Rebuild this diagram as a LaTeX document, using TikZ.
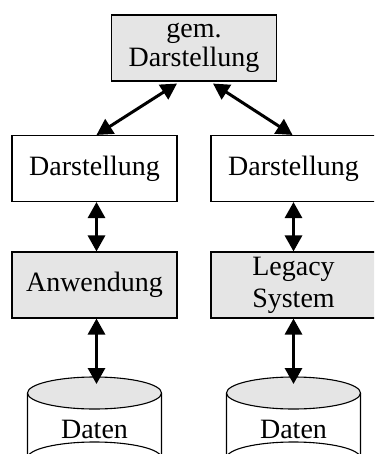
\documentclass[tikz,border=0pt]{standalone}
\usepackage{fontspec}
\setmainfont{Liberation Serif}
\usetikzlibrary{arrows.meta}
\definecolor{boxgray}{gray}{0.90}
\begin{document}
\begin{tikzpicture}[x=1pt,y=-1pt,
  every node/.style={font=\fontsize{28}{29}\selectfont},
  layer/.style={draw=black,line width=1.1pt,minimum width=165pt,minimum height=66pt,inner sep=0pt,align=center},
  shaded/.style={layer,fill=boxgray},
  link/.style={line width=3pt,{Triangle[length=16pt,width=17pt]}-{Triangle[length=16pt,width=17pt]}},
  drum/.style={draw=black,line width=1.1pt}
]
\useasboundingbox (0,0) rectangle (374,454);
\clip (0,0) rectangle (374,454);

% layer boxes
\node[shaded] (top) at (194,48) {gem.\\Darstellung};
\node[layer]  (dl)  at (94.5,168.5) {Darstellung};
\node[layer]  (dr)  at (293.5,168.5) {Darstellung};
\node[shaded] (an)  at (94.5,285) {Anwendung};
\node[shaded] (leg) at (293.5,285) {Legacy\\[3pt]System};

% data stores (cylinders)
\foreach \cx/\nm in {94.5/L,293.5/R}{
  \draw[drum] (\cx-67,393) -- (\cx-67,458) arc[start angle=180,end angle=360,x radius=67,y radius=16] -- (\cx+67,393);
  \draw[drum,fill=boxgray] (\cx,393) ellipse[x radius=67,y radius=16];
  \coordinate (cyl\nm) at (\cx,377);
}
\node (datL) at (94.5,429) {Daten};
\node (datR) at (293.5,429) {Daten};

% connectors
\draw[link] ([xshift=-17pt,yshift=-2pt]top.south) -- ([xshift=2pt]dl.north);
\draw[link] ([xshift=19pt,yshift=-2pt]top.south) -- ([xshift=-1pt]dr.north);
\draw[link] ([xshift=2pt]dl.south) -- ([xshift=2pt]an.north);
\draw[link] (dr.south) -- (leg.north);
\draw[link] ([xshift=2pt]an.south) -- ([xshift=2pt,yshift=-7pt]cylL);
\draw[link] (leg.south) -- ([yshift=-7pt]cylR);
\end{tikzpicture}
\end{document}
